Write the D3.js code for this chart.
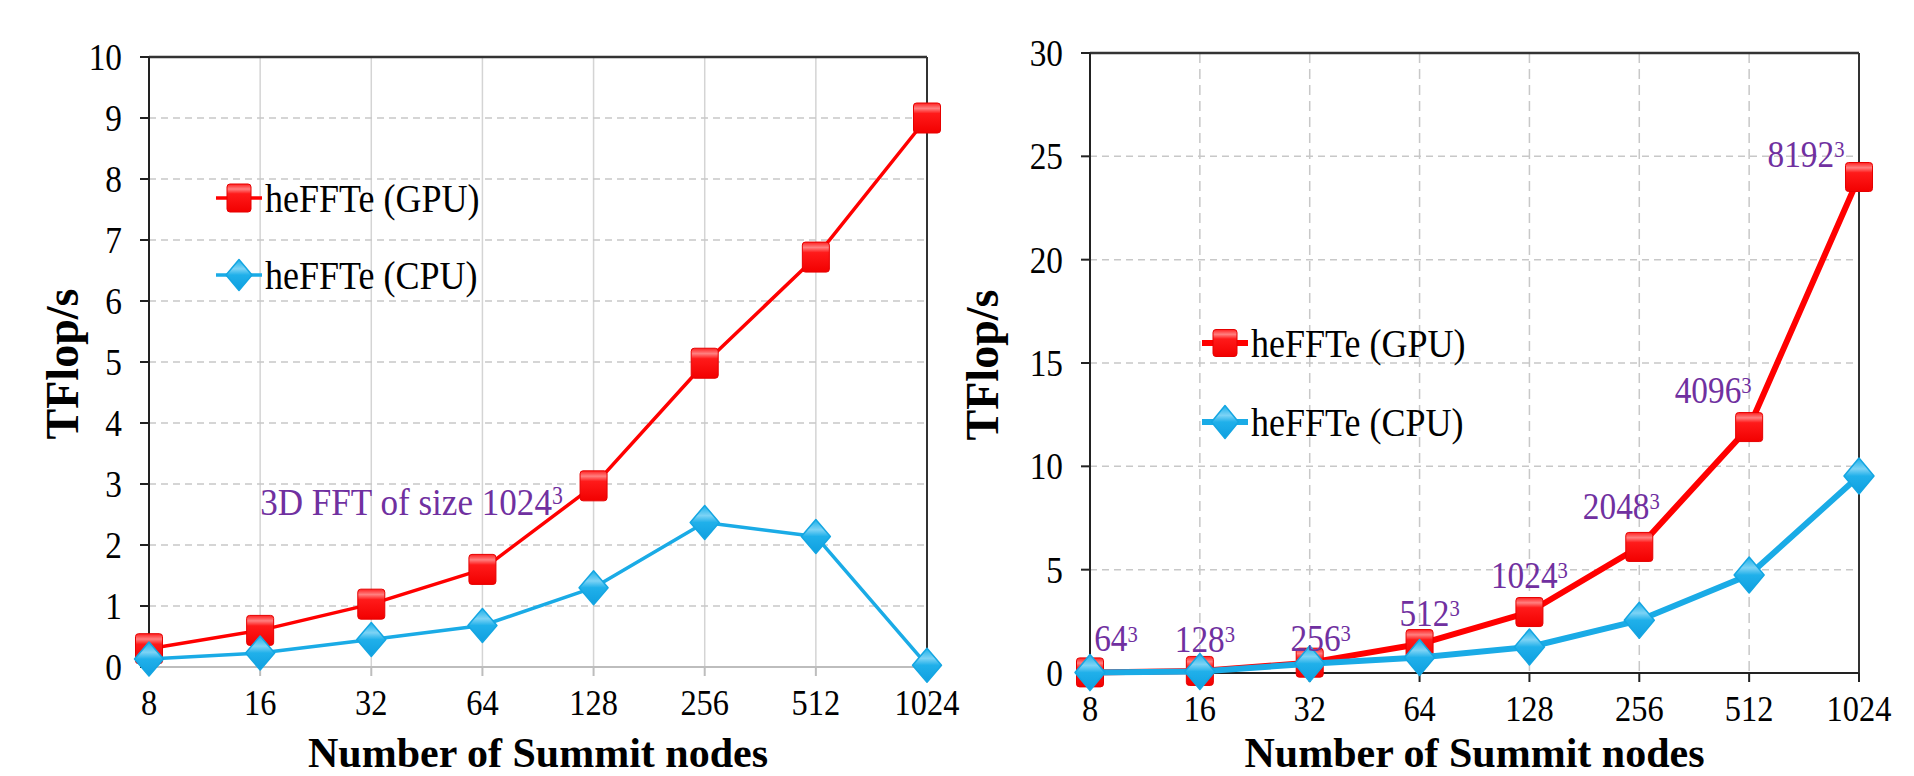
<!DOCTYPE html>
<html>
<head>
<meta charset="utf-8">
<script src="https://cdn.jsdelivr.net/npm/d3@7"></script>
<style>
  body { margin: 0; background: #fff; }
  text { font-family: "Liberation Serif", "Times New Roman", serif; }
</style>
</head>
<body>
<div id="body"></div>
<script>
// data
var nodes = ["8", "16", "32", "64", "128", "256", "512", "1024"];

var gpuLeft = [0.3, 0.6, 1.03, 1.6, 2.97, 4.98, 6.72, 9.0];
var cpuLeft = [0.13, 0.23, 0.45, 0.68, 1.3, 2.37, 2.14, 0.03];

var gpuRight = [0.03, 0.1, 0.5, 1.4, 2.95, 6.1, 11.9, 24.0];
var cpuRight = [0.02, 0.07, 0.45, 0.75, 1.26, 2.55, 4.74, 9.53];

var ticksLeft = [0, 1, 2, 3, 4, 5, 6, 7, 8, 9, 10];
var ticksRight = [0, 5, 10, 15, 20, 25, 30];

var seriesNames = ["heFFTe (GPU)", "heFFTe (CPU)"];
var sizeLabels = ["64", "128", "256", "512", "1024", "2048", "4096", "8192"];
var leftNote = "3D FFT of size 1024";

// label placement next to the GPU points (pixels)
var labelDx = [26, 5, 11, 10, 0, -18, -36, -53];
var labelDy = [-21, -19, -12, -18, -24, -28, -24, -10];

var red = "#ff0000";
var blue = "#1aabe6";
var purple = "#7030a0";
var squeeze = 0.9; // the figure's serif text is a bit narrow

var svg = d3.select("#body")
  .append("svg")
  .attr("width", 1914)
  .attr("height", 776);

svg.append("rect").attr("width", 1914).attr("height", 776).attr("fill", "#fff");

var defs = svg.append("defs");
var gRed = defs.append("linearGradient").attr("id", "gradRed").attr("x1", 0).attr("y1", 0).attr("x2", 0).attr("y2", 1);
gRed.append("stop").attr("offset", "0%").attr("stop-color", "#ff2020");
gRed.append("stop").attr("offset", "18%").attr("stop-color", "#ff8080");
gRed.append("stop").attr("offset", "35%").attr("stop-color", "#ff1a1a");
gRed.append("stop").attr("offset", "100%").attr("stop-color", "#f20000");
var gBlue = defs.append("linearGradient").attr("id", "gradBlue").attr("x1", 0).attr("y1", 0).attr("x2", 0).attr("y2", 1);
gBlue.append("stop").attr("offset", "0%").attr("stop-color", "#1ab0ea");
gBlue.append("stop").attr("offset", "30%").attr("stop-color", "#7dd3f5");
gBlue.append("stop").attr("offset", "50%").attr("stop-color", "#20b0ea");
gBlue.append("stop").attr("offset", "100%").attr("stop-color", "#0f9fe0");

function square(sel, w, h) {
  sel.append("rect")
    .attr("x", -w / 2).attr("y", -h / 2)
    .attr("width", w).attr("height", h)
    .attr("rx", 3)
    .attr("fill", "url(#gradRed)")
    .attr("stroke", "#e60000")
    .attr("stroke-width", 1);
}

function diamond(sel, w, h) {
  sel.append("path")
    .attr("d", "M0," + (-h / 2) + "L" + (w / 2) + ",0L0," + (h / 2) + "L" + (-w / 2) + ",0Z")
    .attr("fill", "url(#gradBlue)")
    .attr("stroke", "#14a6e2")
    .attr("stroke-width", 1.5)
    .attr("stroke-linejoin", "round");
}

function narrow(px, py) {
  return "translate(" + px + "," + py + ") scale(" + squeeze + ",1)";
}

function drawPanel(cfg) {
  var g = svg.append("g");

  var x = d3.scalePoint()
    .domain(nodes)
    .range([cfg.left, cfg.right]);

  var y = d3.scaleLinear()
    .domain([0, cfg.ticks[cfg.ticks.length - 1]])
    .range([cfg.bottom, cfg.top]);

  // grid
  g.append("g")
    .selectAll("line")
    .data(nodes.slice(1, -1))
    .enter().append("line")
    .attr("x1", function(d) { return x(d); })
    .attr("x2", function(d) { return x(d); })
    .attr("y1", cfg.top)
    .attr("y2", cfg.bottom)
    .attr("stroke", cfg.vDash ? "#c8c8c8" : "#d4d4d4")
    .attr("stroke-width", 1.5)
    .attr("stroke-dasharray", cfg.vDash ? "10,6" : null);

  g.append("g")
    .selectAll("line")
    .data(cfg.ticks.slice(1, -1))
    .enter().append("line")
    .attr("x1", cfg.left)
    .attr("x2", cfg.right)
    .attr("y1", function(d) { return y(d); })
    .attr("y2", function(d) { return y(d); })
    .attr("stroke", "#c8c8c8")
    .attr("stroke-width", 1.5)
    .attr("stroke-dasharray", "7,5");

  // frame
  g.append("line").attr("x1", cfg.left).attr("x2", cfg.right).attr("y1", cfg.top).attr("y2", cfg.top)
    .attr("stroke", "#333").attr("stroke-width", 2.5);
  g.append("line").attr("x1", cfg.right).attr("x2", cfg.right).attr("y1", cfg.top).attr("y2", cfg.bottom)
    .attr("stroke", "#333").attr("stroke-width", 2);
  g.append("line").attr("x1", cfg.left).attr("x2", cfg.right).attr("y1", cfg.bottom).attr("y2", cfg.bottom)
    .attr("stroke", cfg.xAxisColor).attr("stroke-width", 2);
  g.append("line").attr("x1", cfg.left).attr("x2", cfg.left).attr("y1", cfg.top).attr("y2", cfg.bottom)
    .attr("stroke", "#222").attr("stroke-width", 2);

  // y axis
  var yTick = g.append("g")
    .selectAll("g")
    .data(cfg.ticks)
    .enter().append("g")
    .attr("transform", function(d) { return "translate(" + cfg.left + "," + y(d) + ")"; });

  yTick.append("line")
    .attr("x1", -9).attr("x2", 0)
    .attr("stroke", "#222").attr("stroke-width", 2);

  yTick.append("text")
    .attr("transform", narrow(-27, 0))
    .attr("dy", "0.35em")
    .attr("text-anchor", "end")
    .attr("font-size", 37)
    .text(function(d) { return d; });

  // x axis
  var xTick = g.append("g")
    .selectAll("g")
    .data(nodes)
    .enter().append("g")
    .attr("transform", function(d) { return "translate(" + x(d) + "," + cfg.bottom + ")"; });

  xTick.append("line")
    .attr("y1", 0).attr("y2", 9)
    .attr("stroke", cfg.xAxisColor).attr("stroke-width", 2);

  xTick.append("text")
    .attr("transform", narrow(0, 48))
    .attr("text-anchor", "middle")
    .attr("font-size", 36)
    .text(function(d) { return d; });

  // titles
  g.append("text")
    .attr("transform", "translate(" + cfg.yTitleX + "," + ((cfg.top + cfg.bottom) / 2 + 2) + ") rotate(-90)")
    .attr("text-anchor", "middle")
    .attr("font-size", 46)
    .attr("font-weight", "bold")
    .text("TFlop/s");

  g.append("text")
    .attr("x", (cfg.left + cfg.right) / 2)
    .attr("y", 767)
    .attr("text-anchor", "middle")
    .attr("font-size", 42)
    .attr("font-weight", "bold")
    .text("Number of Summit nodes");

  // series
  var line = d3.line()
    .x(function(d, i) { return x(nodes[i]); })
    .y(function(d) { return y(d); });

  g.append("path")
    .attr("d", line(cfg.gpu))
    .attr("fill", "none")
    .attr("stroke", red)
    .attr("stroke-width", cfg.lineWidth)
    .attr("stroke-linejoin", "round");

  g.append("g")
    .selectAll("g")
    .data(cfg.gpu)
    .enter().append("g")
    .attr("transform", function(d, i) { return "translate(" + x(nodes[i]) + "," + y(d) + ")"; })
    .call(square, cfg.sqW, cfg.sqH);

  g.append("path")
    .attr("d", line(cfg.cpu))
    .attr("fill", "none")
    .attr("stroke", blue)
    .attr("stroke-width", cfg.lineWidth)
    .attr("stroke-linejoin", "round");

  g.append("g")
    .selectAll("g")
    .data(cfg.cpu)
    .enter().append("g")
    .attr("transform", function(d, i) { return "translate(" + x(nodes[i]) + "," + y(d) + ")"; })
    .call(diamond, cfg.diW, cfg.diH);

  // legend
  var legend = g.append("g")
    .selectAll("g")
    .data(seriesNames)
    .enter().append("g")
    .attr("transform", function(d, i) { return "translate(" + cfg.legendX + "," + (cfg.legendY + i * cfg.legendGap) + ")"; });

  legend.append("line")
    .attr("x1", -23).attr("x2", 23)
    .attr("stroke", function(d, i) { return i === 0 ? red : blue; })
    .attr("stroke-width", cfg.lineWidth);

  legend.each(function(d, i) {
    if (i === 0) square(d3.select(this), cfg.sqW - 3, cfg.sqH - 2);
    else diamond(d3.select(this), cfg.diW - 3, cfg.diH - 3);
  });

  legend.append("text")
    .attr("transform", narrow(26, 0))
    .attr("dy", "0.35em")
    .attr("font-size", 40)
    .text(function(d) { return d; });

  return { g: g, x: x, y: y };
}

var left = drawPanel({
  left: 149, right: 927, top: 57, bottom: 667,
  ticks: ticksLeft, gpu: gpuLeft, cpu: cpuLeft,
  vDash: false, xAxisColor: "#bdbdbd", lineWidth: 3.5,
  sqW: 27, sqH: 30, diW: 29, diH: 34,
  yTitleX: 78, legendX: 239, legendY: 198, legendGap: 77
});

var right = drawPanel({
  left: 1090, right: 1859, top: 53, bottom: 673,
  ticks: ticksRight, gpu: gpuRight, cpu: cpuRight,
  vDash: true, xAxisColor: "#222", lineWidth: 6,
  sqW: 27, sqH: 29, diW: 30, diH: 36,
  yTitleX: 998, legendX: 1225, legendY: 343, legendGap: 79
});

// annotations
var note = left.g.append("text")
  .attr("transform", narrow(left.x("16"), left.y(2.5)))
  .attr("font-size", 39)
  .attr("fill", purple);
note.append("tspan").text(leftNote);
note.append("tspan").attr("dy", "-0.42em").attr("font-size", "0.62em").text("3");

var sizes = right.g.append("g")
  .selectAll("text")
  .data(sizeLabels)
  .enter().append("text")
  .attr("transform", function(d, i) { return narrow(right.x(nodes[i]) + labelDx[i], right.y(gpuRight[i]) + labelDy[i]); })
  .attr("text-anchor", "middle")
  .attr("font-size", 37)
  .attr("fill", purple);

sizes.append("tspan").text(function(d) { return d; });
sizes.append("tspan").attr("dy", "-0.42em").attr("font-size", "0.62em").text("3");
</script>
</body>
</html>
